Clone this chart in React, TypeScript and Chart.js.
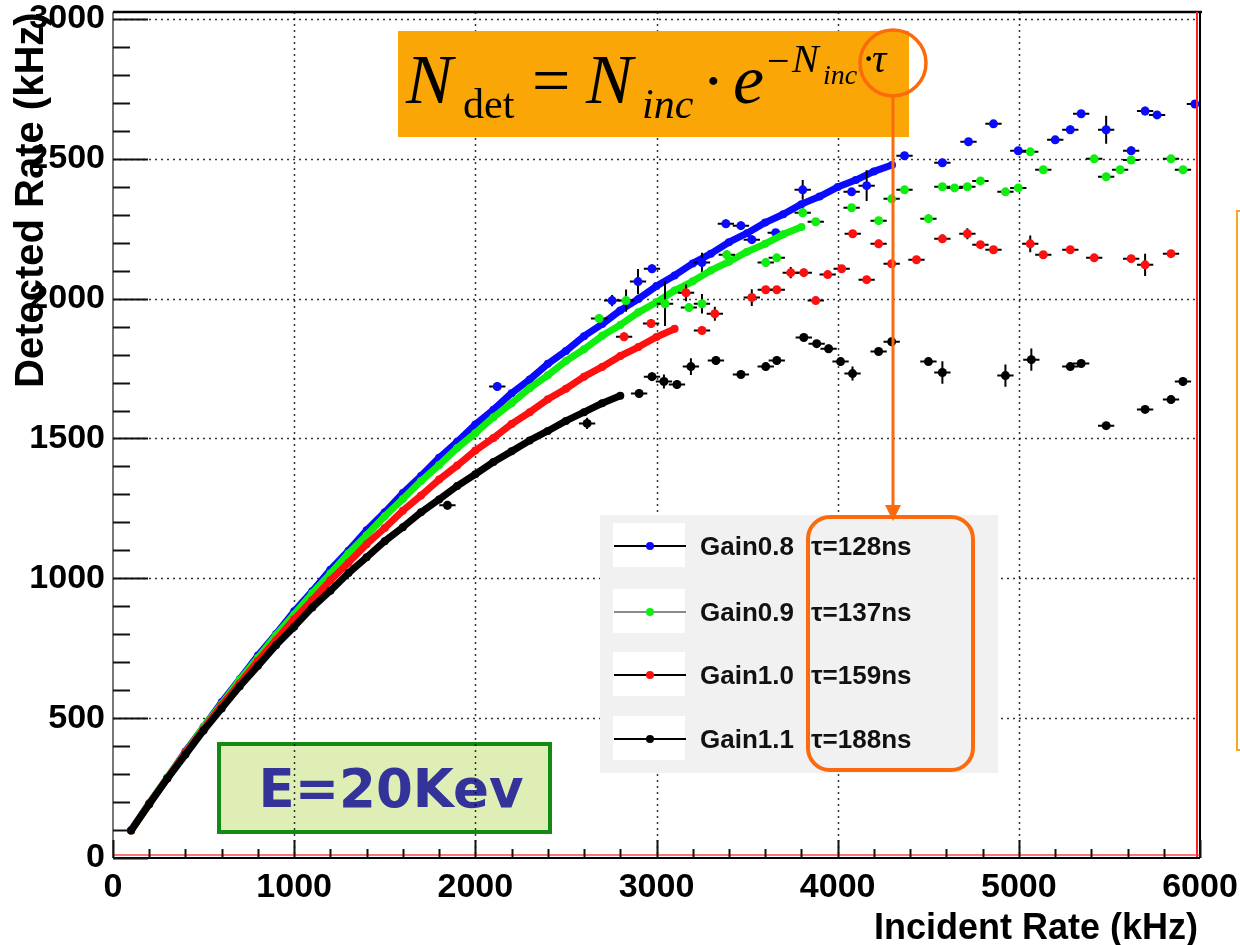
import { useEffect, useRef } from "react";
import { Chart, registerables } from "chart.js";

Chart.register(...registerables);

// Series labels and fitted dead times
const seriesNames = ["Gain0.8", "Gain0.9", "Gain1.0", "Gain1.1"];
const deadTimes = ["τ=128ns", "τ=137ns", "τ=159ns", "τ=188ns"];
const seriesColors = ["#0a0aff", "#10ee10", "#ff1010", "#000000"];
const legendLineColors = ["#000000", "#8a8a8a", "#000000", "#000000"];

// Incident rate (kHz) of the densely sampled scan points
const denseIncident = [
  100, 200, 300, 400, 500, 600, 700, 800, 900, 1000, 1100, 1200, 1300, 1400, 1500,
  1600, 1700, 1800, 1900, 2000, 2100, 2200, 2300, 2400, 2500, 2600, 2700, 2800, 2900,
  3000, 3100, 3200, 3300, 3400, 3500, 3600, 3700, 3800, 3900, 4000, 4100, 4200, 4300,
];

// Detected rate (kHz) along the dense scans
const blueDense = [
  99, 196, 287, 381, 468, 557, 639, 724, 801, 882, 954, 1031, 1099, 1172, 1236, 1305,
  1366, 1431, 1488, 1550, 1603, 1662, 1711, 1767, 1813, 1866, 1909, 1958, 1999, 2045,
  2083, 2126, 2161, 2202, 2234, 2272, 2302, 2338, 2365, 2399, 2424, 2455, 2478,
];
const greenDense = [
  98, 195, 288, 378, 468, 551, 637, 716, 797, 871, 947, 1017, 1089, 1154, 1222, 1284,
  1348, 1405, 1466, 1519, 1576, 1626, 1680, 1726, 1777, 1819, 1867, 1906, 1951, 1987,
  2029, 2062, 2101, 2132, 2168, 2196, 2230, 2256,
];
const redDense = [
  98, 194, 285, 376, 461, 546, 625, 705, 779, 854, 922, 993, 1056, 1122, 1180, 1242,
  1296, 1353, 1403, 1457, 1502, 1552, 1594, 1640, 1678, 1721, 1756, 1795, 1827, 1863, 1892,
];
const blackDense = [
  98, 192, 284, 370, 456, 535, 614, 687, 761, 827, 896, 956, 1019, 1075, 1133, 1183,
  1236, 1282, 1330, 1372, 1416, 1454, 1493, 1527, 1563, 1594, 1626, 1653,
];

// Isolated measurements: incident rate, detected rate, detected-rate error (kHz)
const blueIncident = [2121, 2755, 2898, 2975, 3251, 3383, 3466, 3526, 3658, 3807, 4077, 4160, 4369, 4578, 4722, 4860, 4997, 5201, 5284, 5344, 5482, 5620, 5697, 5763, 5972];
const blueDetected = [1686, 1993, 2061, 2107, 2129, 2268, 2261, 2211, 2236, 2389, 2382, 2404, 2511, 2486, 2561, 2625, 2529, 2568, 2604, 2661, 2604, 2529, 2671, 2657, 2696];
const blueError = [15, 20, 45, 15, 35, 15, 15, 15, 12, 35, 12, 55, 10, 12, 12, 12, 12, 12, 15, 12, 50, 15, 15, 10, 12];

const greenIncident = [2683, 2832, 3047, 3179, 3251, 3388, 3603, 3664, 3807, 3879, 4077, 4226, 4298, 4369, 4501, 4578, 4645, 4716, 4788, 4926, 4997, 5063, 5135, 5416, 5482, 5559, 5620, 5840, 5906];
const greenDetected = [1929, 1993, 1982, 1968, 1982, 2157, 2129, 2146, 2307, 2275, 2325, 2279, 2357, 2389, 2286, 2400, 2396, 2400, 2421, 2382, 2396, 2525, 2461, 2500, 2436, 2461, 2496, 2500, 2461];
const greenError = [15, 40, 80, 15, 35, 15, 15, 12, 15, 10, 12, 12, 12, 10, 15, 12, 10, 12, 12, 12, 12, 10, 10, 10, 10, 10, 12, 10, 12];

const redIncident = [2821, 2970, 3163, 3251, 3322, 3526, 3603, 3664, 3741, 3813, 3879, 3945, 4022, 4083, 4160, 4226, 4298, 4435, 4578, 4716, 4788, 4860, 5063, 5135, 5284, 5416, 5620, 5697, 5840];
const redDetected = [1864, 1911, 2021, 1886, 1946, 2004, 2032, 2032, 2093, 2093, 1993, 2086, 2107, 2232, 2068, 2196, 2125, 2139, 2214, 2232, 2193, 2175, 2196, 2157, 2175, 2146, 2143, 2121, 2161];
const redError = [15, 15, 30, 15, 25, 30, 12, 12, 20, 15, 10, 12, 12, 12, 12, 15, 10, 12, 15, 20, 10, 12, 30, 12, 10, 12, 12, 40, 12];

const blackIncident = [1846, 2617, 2904, 2975, 3041, 3113, 3190, 3328, 3466, 3603, 3664, 3813, 3884, 3950, 4016, 4082, 4226, 4298, 4501, 4578, 4926, 5069, 5284, 5344, 5482, 5697, 5840, 5906];
const blackDetected = [1261, 1554, 1661, 1721, 1704, 1693, 1757, 1779, 1729, 1757, 1779, 1861, 1839, 1821, 1775, 1732, 1811, 1846, 1775, 1736, 1725, 1782, 1757, 1768, 1546, 1604, 1639, 1704];
const blackError = [15, 20, 15, 15, 25, 15, 30, 15, 12, 12, 15, 12, 12, 15, 15, 25, 12, 15, 12, 40, 40, 40, 12, 12, 12, 12, 12, 15];

// Half width of the incident-rate error bars (kHz)
const incidentError = 45;

// Axis ranges, labelled ticks and minor tick steps
const xRange = [0, 6000];
const yRange = [0, 3025];
const xTickValues = [0, 1000, 2000, 3000, 4000, 5000, 6000];
const yTickValues = [0, 500, 1000, 1500, 2000, 2500, 3000];
const xMinorStep = 200;
const yMinorStep = 100;

const pairs = (xs: number[], ys: number[]) => ys.map((y, i) => ({ x: xs[i], y }));

const denseSets = [blueDense, greenDense, redDense, blackDense];
const sparseSets = [
  [blueIncident, blueDetected, blueError],
  [greenIncident, greenDetected, greenError],
  [redIncident, redDetected, redError],
  [blackIncident, blackDetected, blackError],
];

const FONT = "'Liberation Sans', Arial, sans-serif";
const SERIF = "'Liberation Serif', 'Times New Roman', serif";

function roundRect(ctx: CanvasRenderingContext2D, x: number, y: number, w: number, h: number, r: number) {
  ctx.beginPath();
  ctx.moveTo(x + r, y);
  ctx.lineTo(x + w - r, y);
  ctx.arcTo(x + w, y, x + w, y + r, r);
  ctx.lineTo(x + w, y + h - r);
  ctx.arcTo(x + w, y + h, x + w - r, y + h, r);
  ctx.lineTo(x + r, y + h);
  ctx.arcTo(x, y + h, x, y + h - r, r);
  ctx.lineTo(x, y + r);
  ctx.arcTo(x, y, x + r, y, r);
  ctx.closePath();
}

// Black error bars drawn under each dataset's markers
const errorBars = {
  id: "errorBars",
  beforeDatasetDraw(chart: any, args: any) {
    const ds = chart.data.datasets[args.index];
    if (!ds.yErr) return;
    const xs = chart.scales.x;
    const ys = chart.scales.y;
    const { ctx, chartArea: a } = chart;
    ctx.save();
    ctx.beginPath();
    ctx.rect(a.left, a.top, a.right - a.left, a.bottom - a.top);
    ctx.clip();
    ctx.strokeStyle = "#000";
    ctx.lineWidth = 2;
    ds.data.forEach((p: any, i: number) => {
      const px = xs.getPixelForValue(p.x);
      const py = ys.getPixelForValue(p.y);
      ctx.beginPath();
      ctx.moveTo(xs.getPixelForValue(p.x - ds.xErr), py);
      ctx.lineTo(xs.getPixelForValue(p.x + ds.xErr), py);
      ctx.moveTo(px, ys.getPixelForValue(p.y - ds.yErr[i]));
      ctx.lineTo(px, ys.getPixelForValue(p.y + ds.yErr[i]));
      ctx.stroke();
    });
    ctx.restore();
  },
};

// Frame, inner ticks, dotted grid, titles, legend and annotations
const decorations = {
  id: "decorations",
  beforeDatasetsDraw(chart: any) {
    const { ctx, chartArea: a } = chart;
    const xs = chart.scales.x;
    const ys = chart.scales.y;

    // energy label box sits under the grid
    ctx.save();
    ctx.fillStyle = "#dfeeb4";
    ctx.fillRect(217, 742, 335, 92);
    ctx.strokeStyle = "#138a13";
    ctx.lineWidth = 4;
    ctx.strokeRect(219, 744, 331, 88);
    ctx.fillStyle = "#333399";
    ctx.font = `bold 53px 'DejaVu Sans', Verdana, sans-serif`;
    ctx.textAlign = "center";
    ctx.textBaseline = "alphabetic";
    ctx.fillText("E=20Kev", 391, 807);
    ctx.restore();

    // dotted grid
    ctx.save();
    ctx.strokeStyle = "rgba(0,0,0,0.8)";
    ctx.lineWidth = 1.5;
    ctx.setLineDash([2, 4]);
    xTickValues.slice(1, -1).forEach((v) => {
      const px = Math.round(xs.getPixelForValue(v)) + 0.5;
      ctx.beginPath();
      ctx.moveTo(px, a.top);
      ctx.lineTo(px, a.bottom);
      ctx.stroke();
    });
    yTickValues.slice(1).forEach((v) => {
      const py = Math.round(ys.getPixelForValue(v)) + 0.5;
      ctx.beginPath();
      ctx.moveTo(a.left, py);
      ctx.lineTo(a.right, py);
      ctx.stroke();
    });
    ctx.restore();
  },
  afterDatasetsDraw(chart: any) {
    const { ctx, chartArea: a } = chart;
    const xs = chart.scales.x;
    const ys = chart.scales.y;

    // legend
    ctx.save();
    ctx.fillStyle = "#f1f1f1";
    ctx.fillRect(600, 515, 398, 258);
    const rows = [546, 612, 675, 739];
    rows.forEach((ry, i) => {
      ctx.fillStyle = "#ffffff";
      ctx.fillRect(613, ry - 23, 72, 44);
      ctx.strokeStyle = legendLineColors[i];
      ctx.lineWidth = 2;
      ctx.beginPath();
      ctx.moveTo(614, ry);
      ctx.lineTo(686, ry);
      ctx.stroke();
      ctx.fillStyle = seriesColors[i];
      ctx.beginPath();
      ctx.arc(650, ry, 4, 0, Math.PI * 2);
      ctx.fill();
      ctx.fillStyle = "#111";
      ctx.font = `bold 26px ${FONT}`;
      ctx.textAlign = "left";
      ctx.textBaseline = "middle";
      ctx.fillText(seriesNames[i], 700, ry + 2);
      ctx.fillText(deadTimes[i], 811, ry + 2);
    });
    ctx.restore();

    // frame
    ctx.save();
    ctx.lineWidth = 2;
    ctx.strokeStyle = "#777";
    ctx.beginPath();
    ctx.moveTo(a.left, a.top);
    ctx.lineTo(a.left, a.bottom);
    ctx.stroke();
    ctx.strokeStyle = "#000";
    ctx.lineWidth = 2.5;
    ctx.beginPath();
    ctx.moveTo(a.left, a.top);
    ctx.lineTo(a.right + 2, a.top);
    ctx.stroke();
    ctx.lineWidth = 2;
    ctx.strokeStyle = "#ff2020";
    ctx.beginPath();
    ctx.moveTo(a.right - 3, a.top);
    ctx.lineTo(a.right - 3, a.bottom);
    ctx.stroke();
    ctx.strokeStyle = "#000";
    ctx.beginPath();
    ctx.moveTo(a.right, a.top);
    ctx.lineTo(a.right, a.bottom);
    ctx.stroke();
    ctx.strokeStyle = "rgba(255,60,60,0.7)";
    ctx.beginPath();
    ctx.moveTo(a.left, a.bottom - 3);
    ctx.lineTo(a.right, a.bottom - 3);
    ctx.stroke();
    ctx.strokeStyle = "#000";
    ctx.beginPath();
    ctx.moveTo(a.left, a.bottom);
    ctx.lineTo(a.right, a.bottom);
    ctx.stroke();

    // inner ticks: long at labelled values, short at minor steps
    ctx.lineWidth = 2;
    ctx.strokeStyle = "#111";
    for (let v = yRange[0]; v <= yTickValues[yTickValues.length - 1]; v += yMinorStep) {
      const py = Math.round(ys.getPixelForValue(v)) + 0.5;
      const len = yTickValues.includes(v) ? 35 : 17;
      ctx.beginPath();
      ctx.moveTo(a.left, py);
      ctx.lineTo(a.left + len, py);
      ctx.stroke();
    }
    for (let v = xRange[0]; v <= xRange[1]; v += xMinorStep) {
      const px = Math.round(xs.getPixelForValue(v)) + 0.5;
      const len = xTickValues.includes(v) ? 18 : 9;
      ctx.beginPath();
      ctx.moveTo(px, a.bottom);
      ctx.lineTo(px, a.bottom - len);
      ctx.stroke();
    }
    ctx.restore();

    // formula box
    ctx.save();
    ctx.fillStyle = "#f9a606";
    ctx.fillRect(398, 31, 511, 106);
    ctx.fillStyle = "#000";
    ctx.textBaseline = "alphabetic";
    ctx.textAlign = "left";
    ctx.font = `italic 70px ${SERIF}`;
    ctx.fillText("N", 406, 103);
    ctx.font = `42px ${SERIF}`;
    ctx.fillText("det", 463, 118);
    ctx.font = `68px ${SERIF}`;
    ctx.fillText("=", 532, 103);
    ctx.font = `italic 70px ${SERIF}`;
    ctx.fillText("N", 586, 103);
    ctx.font = `italic 42px ${SERIF}`;
    ctx.fillText("inc", 642, 118);
    ctx.font = `68px ${SERIF}`;
    ctx.fillText("·", 702, 103);
    ctx.font = `italic 70px ${SERIF}`;
    ctx.fillText("e", 733, 103);
    ctx.font = `40px ${SERIF}`;
    ctx.fillText("−", 767, 74);
    ctx.font = `italic 40px ${SERIF}`;
    ctx.fillText("N", 792, 72);
    ctx.font = `italic 28px ${SERIF}`;
    ctx.fillText("inc", 823, 84);
    ctx.font = `40px ${SERIF}`;
    ctx.fillText("·", 862, 72);
    ctx.font = `italic 40px ${SERIF}`;
    ctx.fillText("τ", 872, 72);
    ctx.restore();

    // highlight circle, arrow and rounded box
    ctx.save();
    ctx.strokeStyle = "#fb6a0c";
    ctx.lineWidth = 3.5;
    ctx.beginPath();
    ctx.arc(893, 63, 33, 0, Math.PI * 2);
    ctx.stroke();
    ctx.lineWidth = 3;
    ctx.beginPath();
    ctx.moveTo(893, 96);
    ctx.lineTo(893, 508);
    ctx.stroke();
    ctx.fillStyle = "#fb6a0c";
    ctx.beginPath();
    ctx.moveTo(885, 505);
    ctx.lineTo(901, 505);
    ctx.lineTo(893, 521);
    ctx.closePath();
    ctx.fill();
    ctx.lineWidth = 4;
    roundRect(ctx, 808, 517, 165, 253, 22);
    ctx.stroke();
    ctx.restore();

    // edge of the neighbouring panel box
    ctx.save();
    ctx.strokeStyle = "#f6a524";
    ctx.lineWidth = 2;
    ctx.strokeRect(1237, 211, 20, 539);
    ctx.restore();

    // axis titles
    ctx.save();
    ctx.fillStyle = "#000";
    ctx.font = `bold 40px ${FONT}`;
    ctx.textBaseline = "alphabetic";
    ctx.translate(43, 388);
    ctx.rotate(-Math.PI / 2);
    ctx.textAlign = "left";
    ctx.fillText("Detected Rate (kHz)", 0, 0);
    ctx.restore();
    ctx.save();
    ctx.fillStyle = "#000";
    ctx.font = `bold 36px ${FONT}`;
    ctx.textAlign = "right";
    ctx.textBaseline = "alphabetic";
    ctx.fillText("Incident Rate (kHz)", 1198, 939);
    ctx.restore();
  },
};

export default function App() {
  const canvasRef = useRef<HTMLCanvasElement | null>(null);

  useEffect(() => {
    const canvas = canvasRef.current;
    if (!canvas) return;

    const datasets: any[] = [];
    seriesColors.forEach((color, i) => {
      const dense = denseSets[i];
      const [sx, sy, se] = sparseSets[i];
      const drawOrder = i + 1;
      datasets.push({
        label: `${seriesNames[i]} scan`,
        data: pairs(denseIncident.slice(0, dense.length), dense),
        showLine: true,
        borderColor: color,
        borderWidth: 7,
        borderJoinStyle: "round",
        pointRadius: 4,
        pointBackgroundColor: color,
        pointBorderWidth: 0,
        order: 10 - drawOrder * 2,
      });
      datasets.push({
        label: seriesNames[i],
        data: pairs(sx as number[], sy as number[]),
        showLine: false,
        pointRadius: 4.5,
        pointBackgroundColor: color,
        pointBorderWidth: 0,
        xErr: incidentError,
        yErr: se,
        order: 9 - drawOrder * 2,
      });
    });

    const tickFont = { family: FONT, size: 34, weight: "bold" };

    const chart = new Chart(canvas, {
      type: "scatter",
      data: { datasets },
      options: {
        animation: false,
        responsive: false,
        devicePixelRatio: 1,
        layout: { padding: { top: 12, right: 40, bottom: 0, left: 0 } },
        plugins: { legend: { display: false }, tooltip: { enabled: false } },
        scales: {
          x: {
            type: "linear",
            min: xRange[0],
            max: xRange[1],
            grid: { display: false, drawTicks: false },
            border: { display: false },
            afterBuildTicks: (s: any) => {
              s.ticks = xTickValues.map((value) => ({ value }));
            },
            ticks: {
              autoSkip: false,
              maxRotation: 0,
              padding: 9,
              color: "#000",
              font: tickFont,
              callback: (v: any) => String(v),
            },
            afterFit: (s: any) => {
              s.height = 87;
              s.paddingLeft = 0;
              s.paddingRight = 0;
            },
          },
          y: {
            type: "linear",
            min: yRange[0],
            max: yRange[1],
            grid: { display: false, drawTicks: false },
            border: { display: false },
            afterBuildTicks: (s: any) => {
              s.ticks = yTickValues.map((value) => ({ value }));
            },
            ticks: {
              autoSkip: false,
              padding: 8,
              color: "#000",
              font: tickFont,
              callback: (v: any) => String(v),
            },
            afterFit: (s: any) => {
              s.width = 113;
              s.paddingTop = 0;
              s.paddingBottom = 0;
            },
          },
        },
      } as any,
      plugins: [errorBars, decorations],
    });

    return () => chart.destroy();
  }, []);

  return (
    <div style={{ position: "absolute", left: 0, top: 0, width: 1240, height: 945, background: "#fff" }}>
      <canvas ref={canvasRef} width={1240} height={945} />
    </div>
  );
}
